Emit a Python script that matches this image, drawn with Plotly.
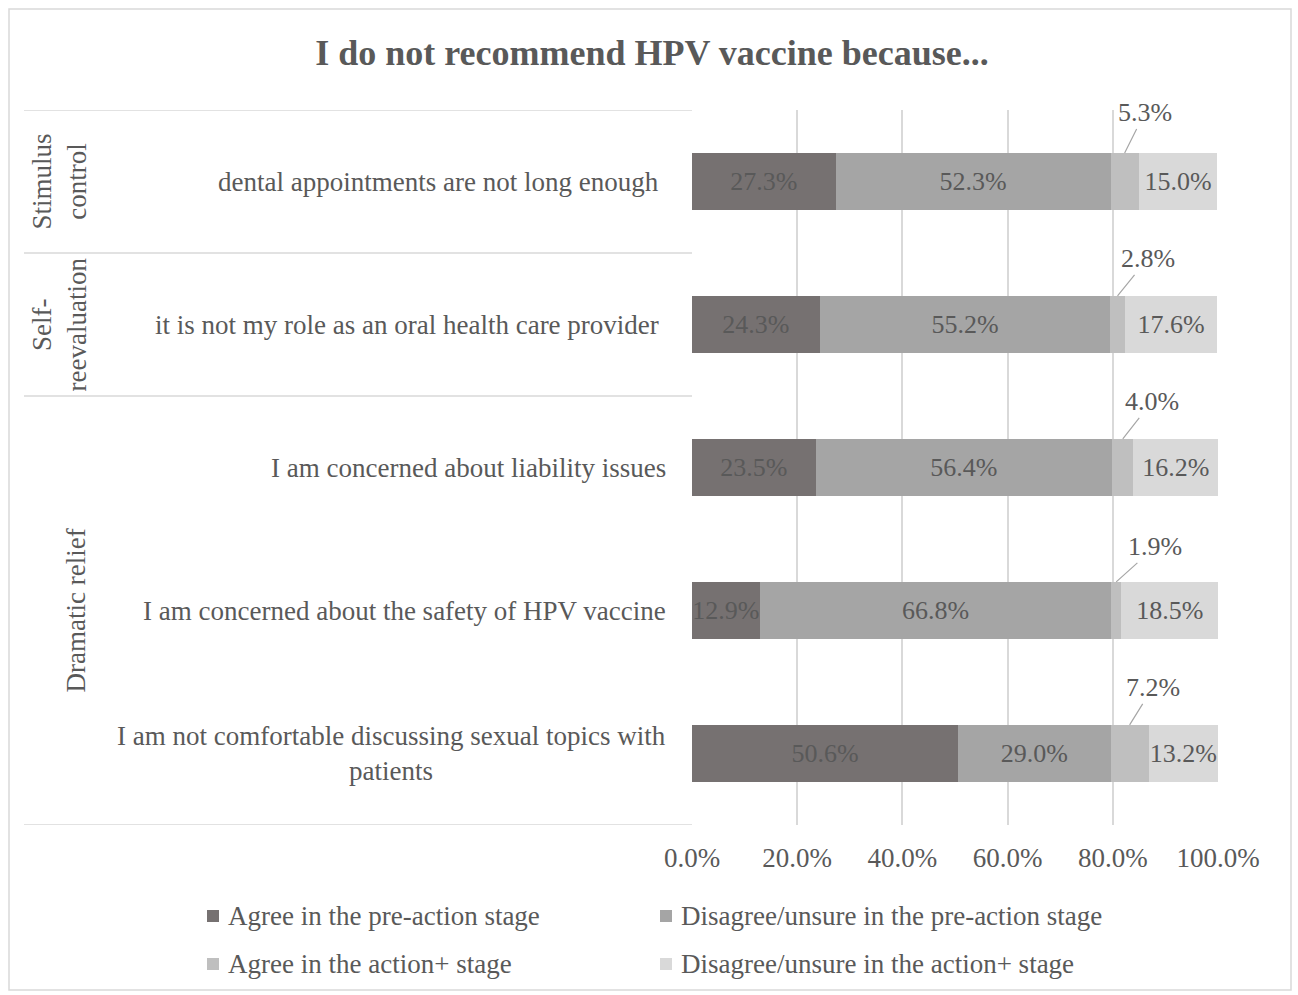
import plotly.graph_objects as go

# ---- data -------------------------------------------------------------
categories = [
    "dental appointments are not long enough",
    "it is not my role as an oral health care provider",
    "I am concerned about liability issues",
    "I am concerned about the safety of HPV vaccine",
    "I am not comfortable discussing sexual topics with<br>patients",
]
groups = ["Stimulus<br>control", "Self-<br>reevaluation", "Dramatic relief"]
group_rows = [[0], [1], [2, 3, 4]]

series_names = [
    "Agree in the pre-action stage",
    "Disagree/unsure in the pre-action stage",
    "Agree in the action+ stage",
    "Disagree/unsure in the action+ stage",
]
agree_pre = [27.3, 24.3, 23.5, 12.9, 50.6]
disagree_pre = [52.3, 55.2, 56.4, 66.8, 29.0]
agree_action = [5.3, 2.8, 4.0, 1.9, 7.2]
disagree_action = [15.0, 17.6, 16.2, 18.5, 13.2]

x_ticks = [0, 20, 40, 60, 80, 100]
x_tick_labels = ["0.0%", "20.0%", "40.0%", "60.0%", "80.0%", "100.0%"]

# ---- styling ----------------------------------------------------------
colors = ["#767171", "#a5a5a5", "#bfbfbf", "#d9d9d9"]
text_color = "#595959"
grid_color = "#d9d9d9"
FONT = "Liberation Serif, Times New Roman, serif"
FS = 26

W, H = 1298, 995
ML, MR, MT, MB = 692, 80, 110, 170
PW, PH = W - ML - MR, H - MT - MB


def px_x(px):
    return (px - ML) / PW


def px_y(py):
    return (H - MB - py) / PH


series = [agree_pre, disagree_pre, agree_action, disagree_action]
rows = list(range(len(categories)))
BAR_W = 0.4

fig = go.Figure()
for k, (name, vals) in enumerate(zip(series_names, series)):
    show_text = k != 2
    fig.add_trace(go.Bar(
        y=rows,
        x=vals,
        orientation="h",
        name=name,
        width=BAR_W,
        marker=dict(color=colors[k], line=dict(width=0)),
        text=[f"{v:.1f}%" for v in vals] if show_text else None,
        textposition="inside" if show_text else "none",
        insidetextanchor="middle",
        constraintext="none",
        textfont=dict(family=FONT, size=FS, color=text_color),
        showlegend=False,
        hoverinfo="skip",
    ))

annotations = []
shapes = []

# callout labels for the narrow "Agree in the action+" segments
callout_dx = [20, 30, 29, 39, 23]
callout_dy = [-40, -37, -37, -35, -37]
for i in rows:
    start = agree_pre[i] + disagree_pre[i]
    v = agree_action[i]
    annotations.append(dict(
        x=start + v / 2, y=i - BAR_W / 2, xref="x", yref="y",
        text=f"{v:.1f}%", showarrow=True, arrowhead=0, arrowwidth=1.2,
        arrowcolor="#a6a6a6", ax=callout_dx[i], ay=callout_dy[i],
        axref="pixel", ayref="pixel", standoff=0,
        font=dict(family=FONT, size=FS, color=text_color),
    ))

# category labels
label_right = [661, 661, 668, 668, 668]
for i, cat in enumerate(categories):
    annotations.append(dict(
        x=px_x(label_right[i]), y=i, xref="paper", yref="y",
        text=cat, showarrow=False, xanchor="right", yanchor="middle",
        align="center",
        font=dict(family=FONT, size=FS + 1, color=text_color),
    ))

# group labels (rotated)
group_x = [59, 59, 75]
for g, name in enumerate(groups):
    rs = group_rows[g]
    annotations.append(dict(
        x=px_x(group_x[g]), y=(rs[0] + rs[-1]) / 2, xref="paper", yref="y",
        text=name, showarrow=False, textangle=-90,
        xanchor="center", yanchor="middle", align="center",
        font=dict(family=FONT, size=FS + 1, color=text_color),
    ))

# table rules separating the groups
LINE_X0 = px_x(24)
for b in [-0.5, 0.5, 1.5, 4.5]:
    shapes.append(dict(
        type="line", xref="paper", yref="y", x0=LINE_X0, x1=0, y0=b, y1=b,
        line=dict(color=grid_color, width=1.5),
    ))

# legend, two columns
legend_pos = [(207, 916), (660, 916), (207, 964), (660, 964)]
for k, name in enumerate(series_names):
    lx, ly = legend_pos[k]
    shapes.append(dict(
        type="rect", xref="paper", yref="paper",
        x0=px_x(lx), x1=px_x(lx + 12), y0=px_y(ly + 6), y1=px_y(ly - 6),
        fillcolor=colors[k], line=dict(width=0),
    ))
    annotations.append(dict(
        x=px_x(lx + 19), y=px_y(ly), xref="paper", yref="paper",
        text=name, showarrow=False, xanchor="left", yanchor="middle",
        font=dict(family=FONT, size=FS + 1, color=text_color),
    ))

# chart-area border
shapes.append(dict(
    type="rect", xref="paper", yref="paper",
    x0=px_x(9), x1=px_x(1291), y0=px_y(990), y1=px_y(9),
    line=dict(color=grid_color, width=1.5), fillcolor="rgba(0,0,0,0)",
))

fig.update_layout(
    width=W, height=H,
    margin=dict(l=ML, r=MR, t=MT, b=MB),
    barmode="stack",
    paper_bgcolor="white", plot_bgcolor="white",
    title=dict(
        text="<b>I do not recommend HPV vaccine because...</b>",
        x=652 / W, xref="container", xanchor="center",
        y=1 - 52 / H, yref="container", yanchor="middle",
        font=dict(family=FONT, size=36, color=text_color),
    ),
    xaxis=dict(
        range=[0, 100], tickvals=x_ticks, ticktext=x_tick_labels,
        showgrid=True, gridcolor=grid_color, gridwidth=1.5,
        zeroline=False, showline=False, ticks="",
        ticklabelstandoff=14,
        tickfont=dict(family=FONT, size=FS + 1, color=text_color),
        fixedrange=True,
    ),
    yaxis=dict(
        range=[4.5, -0.5], showticklabels=False, showgrid=False,
        zeroline=False, showline=False, ticks="", fixedrange=True,
    ),
    annotations=annotations,
    shapes=shapes,
    showlegend=False,
)

fig.write_html("out.html")
